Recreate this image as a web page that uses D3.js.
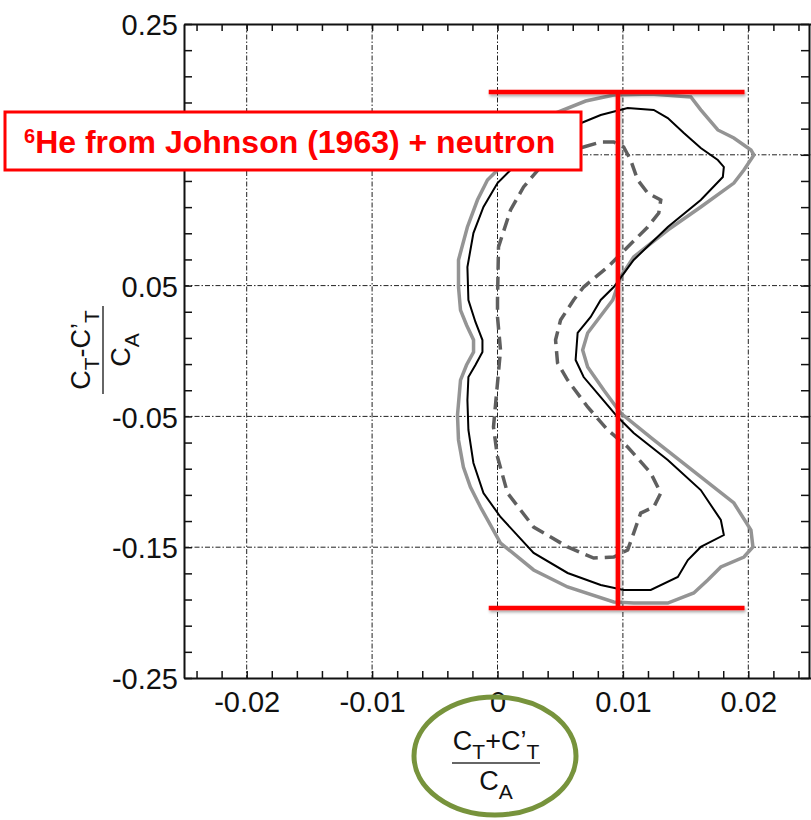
<!DOCTYPE html>
<html>
<head>
<meta charset="utf-8">
<script src="https://cdn.jsdelivr.net/npm/d3@7"></script>
<style>
  body { margin: 0; background: #fff; }
  svg text { font-family: "Liberation Sans", Arial, sans-serif; }
</style>
</head>
<body>
<div id="chart"></div>
<script>
// Contour data: [ (CT+C'T)/CA , (CT-C'T)/CA ]
const outerContour = [
  [0, 0.1384], [0.00184, 0.1613], [0.00423, 0.1804], [0.00703, 0.1911], [0.00927, 0.1957],
  [0.01222, 0.1965], [0.01542, 0.1942], [0.01621, 0.1843], [0.01757, 0.169], [0.01885, 0.1628],
  [0.02021, 0.1537], [0.02045, 0.1498], [0.01965, 0.1384], [0.01885, 0.1284], [0.01621, 0.1101],
  [0.01358, 0.0925], [0.01086, 0.0719], [0.00982, 0.0566], [0.00919, 0.039], [0.00719, 0.0138],
  [0.00679, 0.0007], [0.00719, -0.0122], [0.00847, -0.0298], [0.00982, -0.0474], [0.01246, -0.068],
  [0.01621, -0.0963], [0.01885, -0.1162], [0.02021, -0.1369], [0.02037, -0.1498], [0.01965, -0.1575],
  [0.01781, -0.1651], [0.01677, -0.1751], [0.01565, -0.185], [0.01358, -0.1927], [0.01086, -0.1927],
  [0.00927, -0.1919], [0.00559, -0.1804], [0.00288, -0.1674], [0.00024, -0.1468], [-0.00136, -0.1193],
  [-0.00216, -0.104], [-0.00272, -0.0887], [-0.00311, -0.068], [-0.00319, -0.049], [-0.00295, -0.0222],
  [-0.00247, -0.0107], [-0.00191, -0.0008], [-0.00191, 0.0084], [-0.00247, 0.0199], [-0.00295, 0.0313],
  [-0.00311, 0.0489], [-0.00311, 0.0696], [-0.0024, 0.0948], [-0.0016, 0.1154], [-0.0008, 0.1307]
]

const middleContour = [
  [0.00104, 0.1384], [0.00343, 0.1613], [0.00687, 0.1751], [0.00823, 0.1804], [0.01038, 0.1858],
  [0.01246, 0.1843], [0.01358, 0.1781], [0.01486, 0.1667], [0.01621, 0.1552], [0.01757, 0.146],
  [0.01805, 0.1407], [0.01797, 0.133], [0.01621, 0.1154], [0.01358, 0.0948], [0.01086, 0.0696],
  [0.00927, 0.0489], [0.00823, 0.039], [0.00743, 0.026], [0.00639, 0.0138], [0.00623, -0.0069],
  [0.00687, -0.0199], [0.00823, -0.0352], [0.00958, -0.0505], [0.01086, -0.0627], [0.01358, -0.0833],
  [0.01621, -0.1063], [0.01781, -0.1292], [0.01805, -0.1407], [0.01621, -0.1498], [0.01518, -0.1598],
  [0.01438, -0.1728], [0.01222, -0.1827], [0.01006, -0.1827], [0.00823, -0.1789], [0.00559, -0.1697],
  [0.00288, -0.1544], [0.00024, -0.1269], [-0.00112, -0.1086], [-0.00192, -0.0856], [-0.00232, -0.0604],
  [-0.0024, -0.0375], [-0.00232, -0.0199], [-0.00176, -0.0107], [-0.0012, -0.0008], [-0.0012, 0.0084],
  [-0.00176, 0.0222], [-0.00232, 0.039], [-0.0024, 0.0642], [-0.00192, 0.0902], [-0.00112, 0.1101],
  [0, 0.1284]
]

const innerContour = [
  [0.00687, 0.156], [0.00823, 0.1598], [0.00927, 0.1598], [0.01006, 0.156], [0.01062, 0.146],
  [0.01118, 0.1307], [0.01198, 0.1208], [0.01302, 0.1154], [0.01286, 0.1055], [0.01198, 0.0948],
  [0.01038, 0.0795], [0.00879, 0.0642], [0.00687, 0.0489], [0.00607, 0.039], [0.00503, 0.0237],
  [0.00463, 0.0084], [0.00479, -0.0092], [0.00559, -0.0222], [0.00719, -0.0428], [0.00879, -0.0604],
  [0.01038, -0.0734], [0.01222, -0.0933], [0.01302, -0.1086], [0.01246, -0.1193], [0.01142, -0.1239],
  [0.01086, -0.1392], [0.01038, -0.1521], [0.00927, -0.1575], [0.00767, -0.1583], [0.00559, -0.1498],
  [0.00288, -0.1346], [0.0008, -0.1086], [0, -0.081], [-0.00032, -0.0581], [0, -0.0245],
  [0.00024, 0.0007], [0, 0.026], [0, 0.039], [0.00008, 0.0795], [0.00104, 0.1078],
  [0.00208, 0.1254], [0.00343, 0.1407], [0.00479, 0.1514]
]

// red bracket annotation
const bracketX = 0.0096
const bracketYSpan = [-0.1965, 0.198]
const bracketXSpan = [-0.0007, 0.0197]

// tick labels (the 0.15 label sits under the title box in the source, so only its grid line shows)
const xMajor = [-0.02, -0.01, 0, 0.01, 0.02]
const yMajor = [0.25, 0.05, -0.05, -0.15, -0.25]
const yGrid = [0.15, 0.05, -0.05, -0.15]

const width = 811
const height = 820
const frame = { left: 184, right: 811, top: 24, bottom: 678 }

const svg = d3.select('#chart')
  .append('svg')
  .attr('width', width)
  .attr('height', height)

const defs = svg.append('defs')
const shadow = defs.append('filter').attr('id', 'shadow')
  .attr('x', '-20%').attr('y', '-20%').attr('width', '140%').attr('height', '140%')
shadow.append('feDropShadow')
  .attr('dx', 1).attr('dy', 2).attr('stdDeviation', 1.5)
  .attr('flood-color', '#000').attr('flood-opacity', 0.35)

// scales
const x = d3.scaleLinear().domain([-0.025, 0.025]).range([frame.left, frame.right])
const y = d3.scaleLinear().domain([-0.25, 0.25]).range([frame.bottom, frame.top])

const xMinor = x.ticks(25)
const yMinor = d3.range(0, 26).map(i => +(0.25 - i * 0.02).toFixed(2))

// grid (dash-dot)
const grid = svg.append('g').attr('id', 'grid')
  .attr('stroke', '#222').attr('stroke-width', 1)
  .attr('stroke-dasharray', '5,2,1.5,2')
grid.selectAll('.vgrid').data(xMajor).join('line')
  .attr('class', 'vgrid')
  .attr('x1', d => x(d)).attr('x2', d => x(d))
  .attr('y1', frame.top).attr('y2', frame.bottom)
grid.selectAll('.hgrid').data(yGrid).join('line')
  .attr('class', 'hgrid')
  .attr('y1', d => y(d)).attr('y2', d => y(d))
  .attr('x1', frame.left).attr('x2', frame.right)

// contours
const contour = d3.line()
  .x(d => x(d[0]))
  .y(d => y(d[1]))
  .curve(d3.curveLinearClosed)

const contourGroup = svg.append('g').attr('id', 'contours').attr('fill', 'none')
  .attr('stroke-linejoin', 'miter')
contourGroup.append('path').datum(outerContour)
  .attr('d', contour)
  .attr('stroke', '#949494').attr('stroke-width', 3.5)
contourGroup.append('path').datum(innerContour)
  .attr('d', contour)
  .attr('stroke', '#5f5f5f').attr('stroke-width', 3.5)
  .attr('stroke-dasharray', '13,7')
contourGroup.append('path').datum(middleContour)
  .attr('d', contour)
  .attr('stroke', '#000').attr('stroke-width', 2)

// frame with inward ticks
const axisGroup = svg.append('g').attr('id', 'axisGroup')
const styleFrame = g => {
  g.select('.domain').attr('stroke', '#111').attr('stroke-width', 2)
  g.selectAll('.tick line').attr('stroke', '#111').attr('stroke-width', 1.5)
}
axisGroup.append('g')
  .attr('transform', `translate(0, ${frame.bottom})`)
  .call(d3.axisBottom(x).tickValues(xMinor).tickSizeInner(-7).tickSizeOuter(0).tickFormat(''))
  .call(styleFrame)
axisGroup.append('g')
  .attr('transform', `translate(0, ${frame.top})`)
  .call(d3.axisTop(x).tickValues(xMinor).tickSizeInner(-7).tickSizeOuter(0).tickFormat(''))
  .call(styleFrame)
axisGroup.append('g')
  .attr('transform', `translate(${frame.left}, 0)`)
  .call(d3.axisLeft(y).tickValues(yMinor).tickSizeInner(-8).tickSizeOuter(0).tickFormat(''))
  .call(styleFrame)
axisGroup.append('g')
  .attr('transform', `translate(${frame.right - 2}, 0)`)
  .call(d3.axisRight(y).tickValues(yMinor).tickSizeInner(-8).tickSizeOuter(0).tickFormat(''))
  .call(styleFrame)

// tick labels
const xLabels = axisGroup.append('g')
  .attr('transform', `translate(0, ${frame.bottom})`)
  .call(d3.axisBottom(x).tickValues(xMajor).tickSize(0).tickPadding(13).tickFormat(d => String(d)))
xLabels.select('.domain').remove()
xLabels.selectAll('text')
  .style('font-size', '29px')
  .style('font-family', '"Liberation Sans", Arial, sans-serif')
  .attr('fill', '#111')

// red bracket
const red = svg.append('g').attr('id', 'bracket')
  .attr('stroke', '#ff0000').attr('stroke-width', 4.5)
  .attr('filter', 'url(#shadow)')
red.append('line')
  .attr('x1', x(bracketX)).attr('x2', x(bracketX))
  .attr('y1', y(bracketYSpan[0])).attr('y2', y(bracketYSpan[1]))
red.selectAll('.hbar').data(bracketYSpan).join('line')
  .attr('class', 'hbar')
  .attr('x1', x(bracketXSpan[0])).attr('x2', x(bracketXSpan[1]))
  .attr('y1', d => y(d)).attr('y2', d => y(d))

const yLabels = axisGroup.append('g')
  .attr('transform', `translate(${frame.left}, 0)`)
  .call(d3.axisLeft(y).tickValues(yMajor).tickSize(0).tickPadding(6).tickFormat(d => String(d)))
yLabels.select('.domain').remove()
yLabels.selectAll('text')
  .attr('dy', '0.37em')
  .style('font-size', '29px')
  .style('font-family', '"Liberation Sans", Arial, sans-serif')
  .attr('fill', '#111')

// title box
const box = svg.append('g').attr('id', 'titleBox')
box.append('rect')
  .attr('x', 5).attr('y', 112).attr('width', 576).attr('height', 58)
  .attr('fill', '#fff').attr('stroke', '#ff0000').attr('stroke-width', 3)
const boxText = box.append('text')
  .attr('x', 24).attr('y', 153)
  .attr('fill', '#ff0000').attr('font-weight', 'bold')
boxText.append('tspan').attr('font-size', 20).attr('dy', -10).text('6')
boxText.append('tspan').attr('font-size', 32).attr('dy', 10).text('He from Johnson (1963) + neutron')

// fraction axis titles
function fraction(g, num, den) {
  const addParts = (t, parts) => {
    let shift = 0
    parts.forEach(([s, sub]) => {
      const target = sub ? 9 : 0
      t.append('tspan')
        .attr('dy', target - shift)
        .attr('font-size', sub ? 21 : 27)
        .text(s)
      shift = target
    })
  }
  addParts(g.append('text').attr('text-anchor', 'middle').attr('y', -13).attr('fill', '#111'), num)
  g.append('line')
    .attr('x1', -44).attr('x2', 44)
    .attr('stroke', '#333').attr('stroke-width', 1.5)
  addParts(g.append('text').attr('text-anchor', 'middle').attr('y', 27).attr('fill', '#111'), den)
}

const xTitle = svg.append('g').attr('transform', 'translate(496, 763)')
fraction(xTitle, [['C', 0], ['T', 1], ['+C\u2019', 0], ['T', 1]], [['C', 0], ['A', 1]])

const yTitle = svg.append('g').attr('transform', 'translate(103, 350) rotate(-90)')
fraction(yTitle, [['C', 0], ['T', 1], ['-C\u2019', 0], ['T', 1]], [['C', 0], ['A', 1]])

// green highlight ring
svg.append('ellipse')
  .attr('cx', 495).attr('cy', 756).attr('rx', 81).attr('ry', 59)
  .attr('fill', 'none').attr('stroke', '#77933c').attr('stroke-width', 5)
</script>
</body>
</html>
